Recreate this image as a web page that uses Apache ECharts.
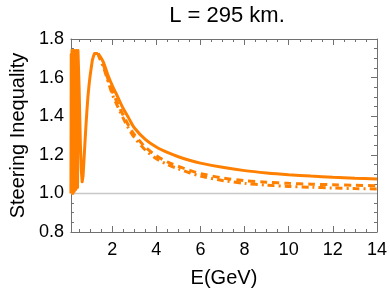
<!DOCTYPE html>
<html>
<head>
<meta charset="utf-8">
<script src="https://cdn.jsdelivr.net/npm/echarts@6/dist/echarts.min.js"></script>
<style>
html,body{margin:0;padding:0;background:#fff;}
#chart{width:390px;height:294px;}
</style>
</head>
<body>
<div id="chart"></div>
<script>
// ---- Data ----
const titleText = "L = 295 km.";
const xName = "E(GeV)";
const yName = "Steering Inequality";

// Low-energy part (shared by all three curves): fast oscillations, dip, peak
const energyLow = [0.13,0.145,0.16,0.175,0.19,0.205,0.22,0.235,0.25,0.265,0.28,0.295,0.31,0.33,0.35,0.37,0.39,0.41,0.43,0.45,
  0.5,0.53,0.56,0.6,0.64,0.68,0.72,0.76,0.8,0.85,0.9,0.95,1.0,1.05,1.1,1.15,1.2,1.27,1.35];
const steeringLow = [1.0,1.72,1.01,1.74,1.02,1.73,1.0,1.74,1.03,1.72,1.01,1.74,1.04,1.73,1.02,1.74,1.05,1.73,1.03,1.74,
  1.55,1.40,1.25,1.12,1.06,1.09,1.17,1.25,1.33,1.42,1.50,1.56,1.61,1.65,1.69,1.71,1.725,1.73,1.725];

// High-energy part
const energyHigh = [1.35,1.45,1.6,1.8,2.0,2.25,2.5,2.75,3.0,3.5,4.0,4.5,5.0,5.5,6.0,7.0,8.0,9.0,10.0,11.0,12.0,13.0,14.0];
const solidHigh   = [1.725,1.71,1.68,1.615,1.56,1.50,1.44,1.39,1.34,1.28,1.24,1.212,1.19,1.172,1.157,1.135,1.118,1.106,1.097,1.09,1.084,1.079,1.075];
const dashedHigh  = [1.725,1.70,1.665,1.595,1.53,1.465,1.405,1.35,1.305,1.24,1.195,1.163,1.14,1.12,1.103,1.08,1.066,1.058,1.052,1.048,1.045,1.042,1.04];
const dotDashHigh = [1.725,1.695,1.655,1.585,1.515,1.45,1.39,1.335,1.29,1.225,1.18,1.15,1.127,1.107,1.09,1.067,1.052,1.043,1.036,1.032,1.028,1.025,1.023];

const referenceLevel = 1.0;
const xMin = 0.13, xMax = 14;
const yMin = 0.8, yMax = 1.8;
const xMajorTicks = [2,4,6,8,10,12,14];
const xMinorTicks = [0.5,1,1.5,2.5,3,3.5,4.5,5,5.5,6.5,7,7.5,8.5,9,9.5,10.5,11,11.5,12.5,13,13.5];

// ---- Chart ----
const pairs = (xs, ys) => xs.map((x, i) => [x, ys[i]]);
const ORANGE = '#ff8000';
const FRAME = '#707070';
const FONT = '"Liberation Sans", Arial, sans-serif';

function xAxisDef(position, ticks, tickLen, showLine, showLabels) {
  return {
    type: 'value', min: xMin, max: xMax, position: position,
    axisLine: { show: showLine, onZero: false, lineStyle: { color: FRAME, width: 1 } },
    axisTick: { show: true, inside: true, length: tickLen, customValues: ticks, lineStyle: { color: FRAME, width: 1 } },
    axisLabel: showLabels ? { show: true, customValues: xMajorTicks, fontSize: 18, color: '#000', fontFamily: FONT, margin: 9 } : { show: false },
    splitLine: { show: false }
  };
}
function yAxisDef(position, showLabels) {
  return {
    type: 'value', min: yMin, max: yMax, interval: 0.2, position: position,
    axisLine: { show: true, onZero: false, lineStyle: { color: FRAME, width: 1 } },
    axisTick: { show: true, inside: true, length: 6, lineStyle: { color: FRAME, width: 1 } },
    minorTick: { show: true, splitNumber: 4, length: 3, lineStyle: { color: FRAME, width: 1 } },
    axisLabel: showLabels ? { show: true, fontSize: 18, color: '#000', fontFamily: FONT, margin: 7, formatter: v => v.toFixed(1) } : { show: false },
    splitLine: { show: false }
  };
}

const xBottom = xAxisDef('bottom', xMajorTicks, 6, true, true);
xBottom.name = xName;
xBottom.nameLocation = 'middle';
xBottom.nameGap = 36;
xBottom.nameTextStyle = { fontSize: 20, color: '#000', fontFamily: FONT };

const yLeft = yAxisDef('left', true);
yLeft.name = yName;
yLeft.nameLocation = 'middle';
yLeft.nameGap = 41;
yLeft.nameTextStyle = { fontSize: 20, color: '#000', fontFamily: FONT };

const option = {
  animation: false,
  backgroundColor: '#fff',
  title: {
    text: titleText, left: 222, top: 0, textAlign: 'center',
    textStyle: { fontSize: 22, fontWeight: 'normal', color: '#000', fontFamily: FONT }
  },
  grid: { left: 67, right: 12, top: 39, bottom: 62, containLabel: false },
  xAxis: [
    xBottom,
    xAxisDef('bottom', xMinorTicks, 3, false, false),
    xAxisDef('top', xMajorTicks, 6, true, false),
    xAxisDef('top', xMinorTicks, 3, false, false)
  ],
  yAxis: [yLeft, yAxisDef('right', false)],
  series: [
    {
      type: 'line', name: 'ref', data: [[xMin, referenceLevel], [xMax, referenceLevel]],
      showSymbol: false, silent: true, z: 1,
      lineStyle: { color: '#c8c8c8', width: 1.5 }
    },
    {
      type: 'line', name: 'low', data: pairs(energyLow, steeringLow),
      showSymbol: false, z: 3, clip: true,
      lineStyle: { color: ORANGE, width: 3, join: 'round' }
    },
    {
      type: 'line', name: 'dotdash', data: pairs(energyHigh, dotDashHigh),
      showSymbol: false, smooth: 0.3, z: 3,
      lineStyle: { color: ORANGE, width: 3, type: [7, 4, 2, 4], cap: 'butt' }
    },
    {
      type: 'line', name: 'dashed', data: pairs(energyHigh, dashedHigh),
      showSymbol: false, smooth: 0.3, z: 3,
      lineStyle: { color: ORANGE, width: 3, type: [7, 5], cap: 'butt' }
    },
    {
      type: 'line', name: 'solid', data: pairs(energyHigh, solidHigh),
      showSymbol: false, smooth: 0.3, z: 4,
      lineStyle: { color: ORANGE, width: 3 }
    }
  ]
};

const chart = echarts.init(document.getElementById('chart'), null, { renderer: 'canvas' });
chart.setOption(option);
</script>
</body>
</html>
